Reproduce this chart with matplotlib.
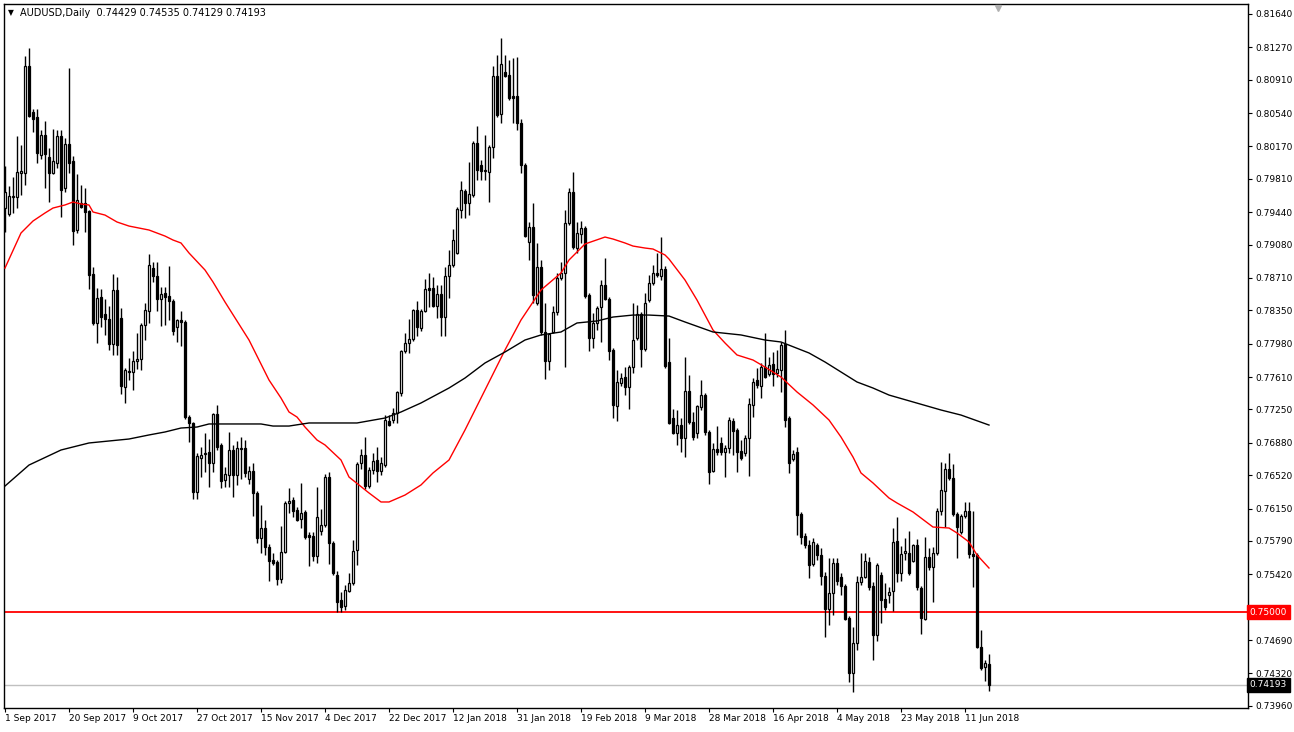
import matplotlib
matplotlib.use("Agg")
import matplotlib.pyplot as plt
import matplotlib.transforms as mtransforms
import numpy as np

# ---------------- data (AUDUSD daily) ----------------
opens = [
0.79486, 0.79420, 0.79608, 0.79608, 0.79875, 0.79875, 0.81062, 0.80552, 0.80496, 0.80075,
0.80297, 0.80052, 0.79875, 0.79986, 0.80285, 0.79708, 0.80197, 0.80008, 0.79242, 0.79542,
0.79542, 0.79453, 0.78754, 0.78210, 0.78498, 0.78310, 0.78254, 0.77977, 0.78576, 0.78265,
0.77499, 0.77677, 0.77666, 0.77788, 0.77810, 0.78188, 0.78343, 0.78820, 0.78731, 0.78476,
0.78543, 0.78509, 0.78454, 0.78165, 0.78243, 0.78221, 0.77166, 0.77100, 0.76334, 0.76711,
0.76756, 0.76778, 0.76656, 0.77200, 0.76856, 0.76467, 0.76523, 0.76800, 0.76523, 0.76811,
0.76822, 0.76478, 0.76567, 0.76323, 0.75823, 0.75934, 0.75723, 0.75579, 0.75557, 0.75368,
0.75668, 0.76212, 0.76245, 0.76134, 0.76034, 0.76112, 0.75856, 0.75845, 0.75623, 0.75901,
0.75967, 0.76500, 0.75767, 0.75412, 0.75135, 0.75068, 0.75235, 0.75324, 0.75690, 0.76656,
0.76744, 0.76400, 0.76578, 0.76689, 0.76567, 0.76633, 0.77122, 0.77133, 0.77211, 0.77433,
0.77899, 0.77988, 0.78032, 0.78354, 0.78154, 0.78343, 0.78598, 0.78598, 0.78398, 0.78532,
0.78276, 0.78731, 0.78854, 0.78987, 0.79464, 0.79675, 0.79542, 0.79631, 0.80208, 0.79964,
0.79897, 0.79886, 0.80163, 0.80951, 0.80530, 0.80996, 0.80962, 0.80729, 0.80729, 0.80430,
0.79964, 0.79109, 0.79275, 0.78432, 0.78831, 0.78110, 0.77788, 0.78110, 0.78332, 0.78709,
0.78765, 0.79320, 0.79664, 0.79042, 0.79198, 0.79264, 0.78521, 0.78043, 0.78210, 0.78387,
0.78632, 0.78476, 0.77910, 0.77288, 0.77544, 0.77610, 0.77499, 0.77721, 0.78043, 0.78310,
0.77921, 0.78465, 0.78654, 0.78765, 0.78731, 0.78809, 0.77777, 0.77155, 0.76989, 0.77077,
0.76933, 0.77455, 0.77111, 0.76989, 0.77277, 0.77410, 0.77000, 0.76567, 0.76811, 0.76878,
0.76778, 0.76822, 0.77122, 0.77022, 0.76789, 0.76767, 0.76933, 0.77300, 0.77577, 0.77510,
0.77721, 0.77644, 0.77755, 0.77655, 0.77688, 0.77977, 0.77155, 0.76700, 0.76778, 0.76090,
0.75845, 0.75745, 0.75535, 0.75745, 0.75635, 0.75401, 0.75035, 0.75213, 0.75546, 0.75390,
0.75290, 0.74935, 0.74325, 0.74658, 0.75335, 0.75390, 0.75557, 0.75290, 0.74747, 0.75412,
0.75146, 0.75190, 0.75235, 0.75790, 0.75435, 0.75657, 0.75657, 0.75568, 0.75745, 0.75268,
0.74924, 0.75612, 0.75501, 0.75657, 0.76123, 0.76345, 0.76589, 0.76489, 0.76090, 0.75890,
0.76067, 0.76123, 0.75646, 0.75635, 0.74613, 0.74391, 0.74429]

highs = [
0.79952, 0.79730, 0.79830, 0.80285, 0.80186, 0.81173, 0.81262, 0.80585, 0.80585, 0.80352,
0.80452, 0.80152, 0.80363, 0.80352, 0.80352, 0.80263, 0.81040, 0.80063, 0.79864, 0.79742,
0.79708, 0.79464, 0.78831, 0.78598, 0.78587, 0.78476, 0.78398, 0.78754, 0.78720, 0.78376,
0.77710, 0.77821, 0.77899, 0.78099, 0.78210, 0.78432, 0.78976, 0.78887, 0.78887, 0.78609,
0.78609, 0.78842, 0.78476, 0.78254, 0.78343, 0.78243, 0.77188, 0.77111, 0.76767, 0.76833,
0.76989, 0.76922, 0.77211, 0.77300, 0.76878, 0.76611, 0.77000, 0.76856, 0.76900, 0.76944,
0.76911, 0.76622, 0.76656, 0.76345, 0.76190, 0.76023, 0.75757, 0.75657, 0.75579, 0.75956,
0.76234, 0.76378, 0.76278, 0.76167, 0.76434, 0.76134, 0.75890, 0.75890, 0.76389, 0.76145,
0.76534, 0.76556, 0.75790, 0.75457, 0.75224, 0.75302, 0.75435, 0.75801, 0.76667, 0.76811,
0.76944, 0.76611, 0.76767, 0.76833, 0.76722, 0.77188, 0.77188, 0.77266, 0.77455, 0.77910,
0.78099, 0.78254, 0.78365, 0.78454, 0.78365, 0.78698, 0.78765, 0.78720, 0.78632, 0.78632,
0.78831, 0.79020, 0.79253, 0.79497, 0.79786, 0.79697, 0.79997, 0.80230, 0.80396, 0.80019,
0.80297, 0.80186, 0.81062, 0.81185, 0.81373, 0.81185, 0.81129, 0.81151, 0.81162, 0.80474,
0.79986, 0.79331, 0.79542, 0.79098, 0.78909, 0.78432, 0.78099, 0.78398, 0.78765, 0.78887,
0.79464, 0.79708, 0.79886, 0.79331, 0.79342, 0.79286, 0.78543, 0.78321, 0.78398, 0.78687,
0.78931, 0.78498, 0.77932, 0.77688, 0.77655, 0.77721, 0.77744, 0.78432, 0.78410, 0.78332,
0.78543, 0.78743, 0.78854, 0.78987, 0.79164, 0.78842, 0.78043, 0.77255, 0.77244, 0.77155,
0.77832, 0.77633, 0.77222, 0.77300, 0.77577, 0.77433, 0.77022, 0.76878, 0.77066, 0.76944,
0.76856, 0.77166, 0.77155, 0.77044, 0.76911, 0.76967, 0.77377, 0.77599, 0.77710, 0.77766,
0.78099, 0.77832, 0.77888, 0.77910, 0.77999, 0.78132, 0.77177, 0.76800, 0.76833, 0.76112,
0.75879, 0.75801, 0.75823, 0.75767, 0.75712, 0.75446, 0.75601, 0.75601, 0.75601, 0.75435,
0.75313, 0.74957, 0.74835, 0.75401, 0.75657, 0.75657, 0.75612, 0.75335, 0.75546, 0.75446,
0.75324, 0.75279, 0.75934, 0.76056, 0.75734, 0.75823, 0.75901, 0.75757, 0.75812, 0.75290,
0.75834, 0.75712, 0.75723, 0.76156, 0.76667, 0.76656, 0.76767, 0.76645, 0.76112, 0.76090,
0.76223, 0.76223, 0.76123, 0.75657, 0.74802, 0.74469, 0.74535]

lows = [
0.79220, 0.79397, 0.79431, 0.79486, 0.79631, 0.79742, 0.80496, 0.80330, 0.79986, 0.80030,
0.79708, 0.79553, 0.79864, 0.79930, 0.79386, 0.79664, 0.79875, 0.79076, 0.79209, 0.79486,
0.79220, 0.78587, 0.78188, 0.77988, 0.78165, 0.78077, 0.77910, 0.77855, 0.77855, 0.77422,
0.77322, 0.77577, 0.77466, 0.77699, 0.77688, 0.78021, 0.78210, 0.78665, 0.78343, 0.78176,
0.78188, 0.78243, 0.78077, 0.77999, 0.77954, 0.77144, 0.76889, 0.76256, 0.76256, 0.76500,
0.76556, 0.76389, 0.76556, 0.76800, 0.76378, 0.76389, 0.76389, 0.76278, 0.76412, 0.76478,
0.76500, 0.76423, 0.76067, 0.75767, 0.75657, 0.75635, 0.75346, 0.75524, 0.75302, 0.75324,
0.75657, 0.76101, 0.76056, 0.76012, 0.75934, 0.75812, 0.75512, 0.75568, 0.75546, 0.75856,
0.75945, 0.75535, 0.75412, 0.75002, 0.75002, 0.75024, 0.75224, 0.75302, 0.75524, 0.76589,
0.76367, 0.76378, 0.76534, 0.76445, 0.76523, 0.76611, 0.77066, 0.77100, 0.77100, 0.77399,
0.77877, 0.77877, 0.78010, 0.78065, 0.78121, 0.78332, 0.78387, 0.78387, 0.78265, 0.78065,
0.78065, 0.78487, 0.78831, 0.78976, 0.79375, 0.79375, 0.79408, 0.79608, 0.79797, 0.79797,
0.79797, 0.79553, 0.80041, 0.80496, 0.80430, 0.80940, 0.80685, 0.80430, 0.80352, 0.79875,
0.79164, 0.78909, 0.78432, 0.78410, 0.78077, 0.77588, 0.77688, 0.78099, 0.78298, 0.78687,
0.77721, 0.79298, 0.79031, 0.78987, 0.79098, 0.78487, 0.77899, 0.77932, 0.78132, 0.77999,
0.78465, 0.77799, 0.77155, 0.77122, 0.77510, 0.77410, 0.77255, 0.77655, 0.78021, 0.77721,
0.77899, 0.78443, 0.78632, 0.78720, 0.78687, 0.77710, 0.77089, 0.76978, 0.76856, 0.76778,
0.76722, 0.77089, 0.76911, 0.76933, 0.77244, 0.76967, 0.76423, 0.76556, 0.76744, 0.76744,
0.76500, 0.76767, 0.76744, 0.76556, 0.76689, 0.76733, 0.76511, 0.77166, 0.77488, 0.77377,
0.77599, 0.77621, 0.77510, 0.77610, 0.77444, 0.77055, 0.76545, 0.76678, 0.75856, 0.75757,
0.75712, 0.75379, 0.75512, 0.75579, 0.75302, 0.74724, 0.74858, 0.74968, 0.75302, 0.75190,
0.74913, 0.74225, 0.74114, 0.74580, 0.75302, 0.75379, 0.75246, 0.74469, 0.74684, 0.74880,
0.75024, 0.75102, 0.75013, 0.75335, 0.75346, 0.75579, 0.75412, 0.75557, 0.75246, 0.74758,
0.74913, 0.75468, 0.75113, 0.75635, 0.76078, 0.75945, 0.76467, 0.76067, 0.75601, 0.75868,
0.76045, 0.75601, 0.75279, 0.74602, 0.74358, 0.74236, 0.74129]

closes = [
0.79664, 0.79619, 0.79619, 0.79886, 0.79897, 0.81062, 0.80507, 0.80474, 0.80097, 0.80297,
0.80086, 0.79875, 0.80008, 0.80285, 0.79686, 0.80197, 0.79986, 0.79231, 0.79575, 0.79497,
0.79442, 0.78743, 0.78210, 0.78487, 0.78276, 0.78254, 0.77977, 0.78576, 0.77966, 0.77510,
0.77688, 0.77666, 0.77788, 0.77810, 0.78188, 0.78354, 0.78854, 0.78731, 0.78476, 0.78532,
0.78498, 0.78454, 0.78121, 0.78243, 0.78221, 0.77166, 0.77100, 0.76334, 0.76733, 0.76744,
0.76767, 0.76656, 0.77200, 0.76833, 0.76456, 0.76534, 0.76800, 0.76523, 0.76822, 0.76822,
0.76545, 0.76567, 0.76323, 0.75823, 0.75934, 0.75723, 0.75568, 0.75546, 0.75368, 0.75668,
0.76212, 0.76234, 0.76123, 0.76023, 0.76101, 0.75834, 0.75834, 0.75623, 0.76056, 0.75967,
0.76500, 0.75767, 0.75435, 0.75113, 0.75057, 0.75246, 0.75324, 0.75683, 0.76645, 0.76744,
0.76400, 0.76578, 0.76678, 0.76567, 0.76656, 0.77133, 0.77077, 0.77211, 0.77444, 0.77899,
0.77988, 0.78032, 0.78354, 0.78165, 0.78343, 0.78587, 0.78576, 0.78398, 0.78532, 0.78276,
0.78731, 0.78854, 0.79131, 0.79475, 0.79686, 0.79542, 0.79642, 0.80208, 0.79908, 0.79897,
0.79908, 0.80163, 0.80951, 0.80518, 0.81085, 0.80951, 0.80707, 0.80707, 0.80430, 0.79964,
0.79175, 0.79275, 0.78521, 0.78831, 0.78110, 0.77788, 0.78088, 0.78332, 0.78709, 0.78765,
0.79320, 0.79664, 0.79053, 0.79209, 0.79264, 0.78509, 0.78043, 0.78210, 0.78376, 0.78632,
0.78476, 0.77899, 0.77300, 0.77555, 0.77599, 0.77499, 0.77721, 0.78021, 0.78310, 0.77921,
0.78432, 0.78654, 0.78765, 0.78743, 0.78809, 0.77732, 0.77100, 0.76989, 0.77077, 0.76933,
0.77455, 0.77111, 0.76944, 0.77288, 0.77410, 0.77000, 0.76556, 0.76811, 0.76778, 0.76778,
0.76822, 0.77133, 0.77011, 0.76778, 0.76711, 0.76933, 0.77311, 0.77555, 0.77522, 0.77721,
0.77610, 0.77744, 0.77644, 0.77699, 0.77966, 0.77133, 0.76656, 0.76756, 0.76078, 0.75834,
0.75745, 0.75524, 0.75779, 0.75635, 0.75401, 0.75035, 0.75213, 0.75546, 0.75346, 0.75290,
0.74924, 0.74325, 0.74658, 0.75335, 0.75390, 0.75568, 0.75279, 0.74747, 0.75524, 0.75135,
0.75057, 0.75224, 0.75779, 0.75435, 0.75646, 0.75683, 0.75435, 0.75745, 0.75279, 0.74935,
0.75612, 0.75501, 0.75657, 0.76123, 0.76356, 0.76589, 0.76489, 0.76090, 0.75945, 0.76067,
0.76123, 0.75646, 0.75623, 0.74613, 0.74380, 0.74436, 0.74193]

# moving averages (bar index, value)
ma_fast_idx = [0, 4, 7, 10, 12, 15, 17, 19, 21, 22, 25, 28, 31, 36, 40, 42, 44, 46, 50, 52,
               55, 61, 66, 69, 71, 73, 75, 78, 80, 84, 86, 91, 94, 96, 100, 104, 107, 111, 115, 119,
               125, 129, 134, 139, 141, 145, 150, 152, 155, 157, 160, 162, 165, 166, 170, 173, 177, 180, 183, 187,
               190, 194, 198, 202, 206, 209, 212, 214, 217, 221, 223, 227, 229, 232, 236, 238, 241, 243, 246]
ma_fast_val = [0.78820, 0.79209, 0.79342, 0.79431, 0.79486, 0.79520, 0.79553, 0.79531, 0.79520, 0.79442,
               0.79408, 0.79331, 0.79286, 0.79242, 0.79175, 0.79131, 0.79098, 0.78987, 0.78798, 0.78665,
               0.78443, 0.78021, 0.77577, 0.77377, 0.77222, 0.77166, 0.77055, 0.76911, 0.76856, 0.76689,
               0.76500, 0.76323, 0.76223, 0.76223, 0.76300, 0.76412, 0.76545, 0.76689, 0.77022, 0.77377,
               0.77910, 0.78243, 0.78576, 0.78765, 0.78909, 0.79087, 0.79164, 0.79142, 0.79098, 0.79064,
               0.79042, 0.79031, 0.78965, 0.78920, 0.78687, 0.78465, 0.78132, 0.77988, 0.77855, 0.77799,
               0.77721, 0.77610, 0.77444, 0.77300, 0.77133, 0.76944, 0.76722, 0.76545, 0.76434, 0.76267,
               0.76212, 0.76112, 0.76045, 0.75945, 0.75934, 0.75879, 0.75779, 0.75635, 0.75490]

ma_slow_idx = [0, 6, 14, 21, 26, 31, 36, 40, 44, 48, 51, 64, 67, 71, 76, 88, 95, 99, 104, 111,
               115, 120, 125, 130, 134, 139, 143, 148, 152, 157, 161, 166, 170, 177, 184, 190, 194, 201, 205, 209,
               213, 217, 221, 234, 239, 246]
ma_slow_val = [0.76400, 0.76633, 0.76800, 0.76878, 0.76900, 0.76922, 0.76967, 0.77000, 0.77044, 0.77055,
               0.77089, 0.77089, 0.77066, 0.77066, 0.77100, 0.77100, 0.77155, 0.77222, 0.77322, 0.77488,
               0.77599, 0.77766, 0.77888, 0.78021, 0.78077, 0.78110, 0.78210, 0.78232, 0.78276, 0.78298,
               0.78298, 0.78287, 0.78221, 0.78110, 0.78077, 0.78021, 0.77999, 0.77877, 0.77777, 0.77666,
               0.77555, 0.77488, 0.77410, 0.77244, 0.77188, 0.77077]

level_line = 0.75000
last_price = 0.74193

price_ticks = [0.81640, 0.81270, 0.80910, 0.80540, 0.80170, 0.79810, 0.79440, 0.79080, 0.78710,
               0.78350, 0.77980, 0.77610, 0.77250, 0.76880, 0.76520, 0.76150, 0.75790, 0.75420,
               0.75060, 0.74690, 0.74320, 0.73960]
hidden_tick = 0.75060   # label covered by the 0.75000 marker box

date_tick_idx = [0, 16, 32, 48, 64, 80, 96, 112, 128, 144, 160, 176, 192, 208, 224, 240]
date_labels = ["1 Sep 2017", "20 Sep 2017", "9 Oct 2017", "27 Oct 2017", "15 Nov 2017",
               "4 Dec 2017", "22 Dec 2017", "12 Jan 2018", "31 Jan 2018", "19 Feb 2018",
               "9 Mar 2018", "28 Mar 2018", "16 Apr 2018", "4 May 2018", "23 May 2018", "11 Jun 2018"]

title_text = "AUDUSD,Daily  0.74429 0.74535 0.74129 0.74193"

# ---------------- drawing ----------------
plt.rcParams['font.family'] = ['DejaVu Sans']
W, H = 1294, 732
fig = plt.figure(figsize=(W / 100, H / 100), dpi=100)
fig.patch.set_facecolor('white')
ax = fig.add_axes([4 / W, 24 / H, 1244 / W, 704 / H])
ax.set_facecolor('white')

o = np.array(opens); h = np.array(highs); l = np.array(lows); c = np.array(closes)
h = np.maximum(h, np.maximum(o, c))
l = np.minimum(l, np.minimum(o, c))
idx = np.arange(len(o))

ax.set_xlim(-0.25, 310.75)
ax.set_ylim(0.73936, 0.81751)

# wicks
ax.vlines(idx, l, h, color='black', linewidth=1.0, zorder=2)
# bodies
bottom = np.minimum(o, c)
height = np.abs(c - o)
height = np.maximum(height, 0.00003)
face = ['white' if cc >= oo else 'black' for oo, cc in zip(o, c)]
ax.bar(idx, height, bottom=bottom, width=0.55, color=face, edgecolor='black',
       linewidth=0.9, zorder=3)

# moving averages
ax.plot(ma_fast_idx, ma_fast_val, color='#ff0000', linewidth=1.0, zorder=4)
ax.plot(ma_slow_idx, ma_slow_val, color='black', linewidth=1.0, zorder=4)

# horizontal lines
ax.axhline(level_line, color='#ff0000', linewidth=1.3, zorder=1)
ax.axhline(last_price, color='#c0c0c0', linewidth=1.0, zorder=1)

# axes styling
for s in ax.spines.values():
    s.set_color('black')
    s.set_linewidth(1.0)
ax.yaxis.tick_right()
ax.set_yticks(price_ticks)
ax.set_yticklabels(["" if abs(v - hidden_tick) < 1e-9 else f"{v:.5f}" for v in price_ticks])
ax.tick_params(axis='y', direction='out', length=3, width=0.8, labelsize=6.5, pad=2,
               colors='black')
ax.set_xticks(date_tick_idx)
ax.set_xticklabels(date_labels, ha='left')
ax.tick_params(axis='x', direction='out', length=3, width=0.8, labelsize=6.5, pad=1,
               colors='black')
for lab in ax.get_xticklabels():
    lab.set_horizontalalignment('left')

# price boxes on right axis
trans = mtransforms.blended_transform_factory(ax.transAxes, ax.transData)
ax.text(1.0015, level_line, "0.75000", transform=trans, fontsize=6.5, color='white',
        va='center', ha='left', clip_on=False, zorder=10,
        bbox=dict(boxstyle='square,pad=0.3', facecolor='#ff0000', edgecolor='#ff0000'))
ax.text(1.0015, last_price, "0.74193", transform=trans, fontsize=6.5, color='white',
        va='center', ha='left', clip_on=False, zorder=10,
        bbox=dict(boxstyle='square,pad=0.3', facecolor='black', edgecolor='black'))

# chart-shift marker
trans2 = mtransforms.blended_transform_factory(ax.transData, ax.transAxes)
ax.plot([248.25], [0.995], marker='v', markersize=5, color='#b0b0b0', transform=trans2,
        clip_on=False, zorder=5)

# header text
fig.text(8 / W, 1 - 13 / H, "\u25bc", fontsize=5.5, color='black', va='center', ha='left')
fig.text(20 / W, 1 - 13 / H, title_text, fontsize=7, color='black', va='center', ha='left')

fig.savefig("out.png", dpi=100, facecolor='white')
